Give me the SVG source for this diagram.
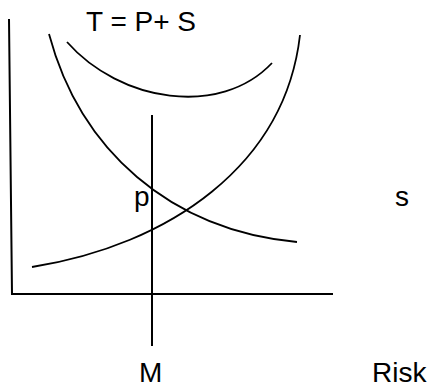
<svg xmlns="http://www.w3.org/2000/svg" width="430" height="388" viewBox="0 0 430 388">
<style>
.ln{fill:none;stroke:#000;stroke-width:2}
.cv{fill:none;stroke:#000;stroke-width:1.8}
.t{font-family:"Liberation Sans",Arial,sans-serif;font-size:28px;fill:#000}
</style>
<rect width="430" height="388" fill="#fff"/>
<g id="axes">
<polyline class="ln" points="9,19 12,294 333,294"/>
</g>
<g id="connectors">
<line id="m-line" class="ln" x1="152" y1="115" x2="152" y2="346"/>
<path id="curve-p" class="cv" d="M49,34 C80,150 170,230 297,242"/>
<path id="curve-s" class="cv" d="M32,267 C170,245 285,165 300,35"/>
<path id="curve-t" class="cv" d="M67,42 C120,102 220,118 272,63"/>
</g>
<g id="labels">
<text id="lbl-t" class="t" x="86" y="31">T = P+ S</text>
<text id="lbl-p" class="t" x="134" y="206">p</text>
<text id="lbl-s" class="t" x="395" y="206">s</text>
<text id="lbl-m" class="t" x="139" y="382">M</text>
<text id="lbl-risk" class="t" x="372" y="382">Risk</text>
</g>
</svg>
